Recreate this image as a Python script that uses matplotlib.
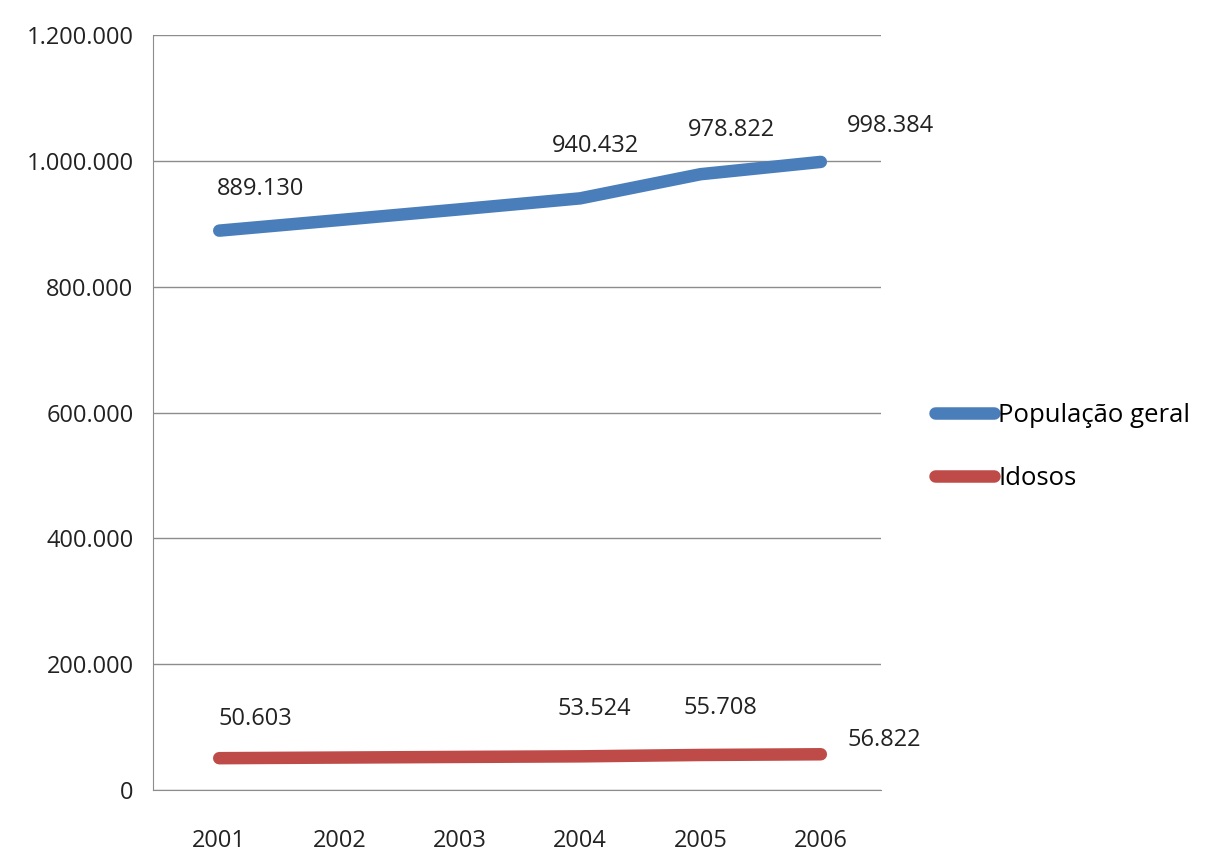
import matplotlib
matplotlib.use('Agg')
import matplotlib.pyplot as plt
from matplotlib.ticker import FuncFormatter

plt.rcParams['font.family'] = ['Liberation Sans Narrow', 'Open Sans', 'DejaVu Sans']

years = ['2001', '2002', '2003', '2004', '2005', '2006']
populacao = [889130, 906000, 923000, 940432, 978822, 998384]
idosos = [50603, 51600, 52600, 53524, 55708, 56822]
pop_labels = ['889.130', None, None, '940.432', '978.822', '998.384']
ido_labels = ['50.603', None, None, '53.524', '55.708', '56.822']

blue = '#4A7EBB'
red = '#BE4B48'

fig = plt.figure(figsize=(12.08, 8.55), dpi=100)
ax = fig.add_axes([0.1267, 0.076, 0.6026, 0.883])

x = list(range(len(years)))
ax.plot(x, populacao, color=blue, lw=9, solid_capstyle='round', label='População geral')
ax.plot(x, idosos, color=red, lw=9, solid_capstyle='round', label='Idosos')

# data labels (offsets in points)
pop_off = [(30, 30), None, None, (11, 38), (22, 32), (50, 26)]
ido_off = [(26, 28), None, None, (10, 34), (14, 34), (46, 10)]
for i, (lab, off) in enumerate(zip(pop_labels, pop_off)):
    if lab:
        ax.annotate(lab, (x[i], populacao[i]), xytext=off, textcoords='offset points',
                    ha='center', va='center', fontsize=17, color='#222222')
for i, (lab, off) in enumerate(zip(ido_labels, ido_off)):
    if lab:
        ax.annotate(lab, (x[i], idosos[i]), xytext=off, textcoords='offset points',
                    ha='center', va='center', fontsize=17, color='#222222')

ax.set_xlim(-0.55, 5.5)
ax.set_ylim(0, 1200000)
ax.set_yticks(range(0, 1200001, 200000))
ax.yaxis.set_major_formatter(FuncFormatter(lambda v, p: f'{int(v):,}'.replace(',', '.')))
ax.set_xticks(x)
ax.set_xticklabels(years)
ax.tick_params(length=0, labelsize=17, colors='#222222')
ax.tick_params(axis='x', pad=28)
ax.tick_params(axis='y', pad=14)

ax.grid(axis='y', color='#8c8c8c', lw=1)
ax.set_axisbelow(True)
for s in ['top', 'right']:
    ax.spines[s].set_visible(False)
ax.spines['left'].set_color('#8c8c8c')
ax.spines['bottom'].set_color('#8c8c8c')

fig.legend(loc='center left', bbox_to_anchor=(0.755, 0.477), frameon=False,
           fontsize=18.5, handlelength=2.3, handletextpad=0.15, labelspacing=1.5)

fig.savefig('out.png', dpi=100)
